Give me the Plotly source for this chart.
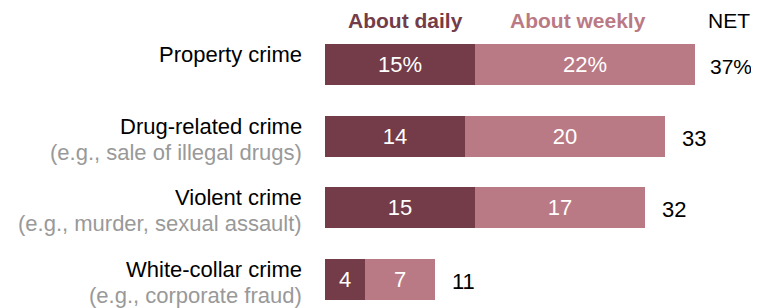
import plotly.graph_objects as go

categories = ["Property crime", "Drug-related crime", "Violent crime", "White-collar crime"]
subtitles = ["", "(e.g., sale of illegal drugs)", "(e.g., murder, sexual assault)", "(e.g., corporate fraud)"]
daily = [15, 14, 15, 4]
weekly = [22, 20, 17, 7]
net = [37, 33, 32, 11]
series_names = ["About daily", "About weekly", "NET"]

DARK = "#733C48"
LIGHT = "#BA7A85"
FONT = "Liberation Sans"
FS = 22
pos = list(range(len(categories)))

def fmt(vals):
    return [f"{v}%" if i == 0 else f"{v}" for i, v in enumerate(vals)]

fig = go.Figure()
for vals, col, nm in [(daily, DARK, series_names[0]), (weekly, LIGHT, series_names[1])]:
    fig.add_trace(go.Bar(y=pos, x=vals, orientation="h", marker=dict(color=col, line=dict(width=0)),
                         width=0.572, text=fmt(vals), textposition="inside", insidetextanchor="middle",
                         textfont=dict(color="white", size=FS, family=FONT), name=nm,
                         hoverinfo="skip"))

ann = []
for i, c in enumerate(categories):
    ann.append(dict(x=0, y=i, xref="x", yref="y", text=c, showarrow=False, xanchor="right",
                    yanchor="middle", xshift=-21, yshift=10,
                    font=dict(size=FS, color="black", family=FONT)))
    if subtitles[i]:
        ann.append(dict(x=0, y=i, xref="x", yref="y", text=subtitles[i], showarrow=False, xanchor="right",
                        yanchor="middle", xshift=-21, yshift=-16,
                        font=dict(size=FS, color="#999999", family=FONT)))
    end = daily[i] + weekly[i]
    first = i == 0
    ann.append(dict(x=end, y=i, xref="x", yref="y", text=fmt(net)[i], showarrow=False, xanchor="left",
                    yanchor="middle", xshift=13 if first else 15, yshift=-2,
                    font=dict(size=21 if first else FS, color="black", family=FONT)))

hy = -0.607
ann.append(dict(x=daily[0] / 2, y=hy, xref="x", yref="y", text="<b>" + series_names[0] + "</b>",
                showarrow=False, xanchor="center", yanchor="middle", xshift=5,
                font=dict(size=21, color=DARK, family=FONT)))
ann.append(dict(x=daily[0] + weekly[0] / 2, y=hy, xref="x", yref="y", text="<b>" + series_names[1] + "</b>",
                showarrow=False, xanchor="center", yanchor="middle", xshift=-7,
                font=dict(size=21, color=LIGHT, family=FONT)))
ann.append(dict(x=net[0], y=hy, xref="x", yref="y", text=series_names[2],
                showarrow=False, xanchor="center", yanchor="middle", xshift=34,
                font=dict(size=21, color="black", family=FONT)))

fig.update_layout(
    width=751, height=300, barmode="stack", bargap=0,
    margin=dict(l=317, r=4, t=0, b=0),
    paper_bgcolor="white", plot_bgcolor="white", showlegend=False,
    xaxis=dict(range=[0, 43], visible=False, fixedrange=True),
    yaxis=dict(range=[3.398, -0.788], visible=False, fixedrange=True),
    annotations=ann, uniformtext=dict(minsize=FS, mode="show"),
)
fig.write_html("out.html")
